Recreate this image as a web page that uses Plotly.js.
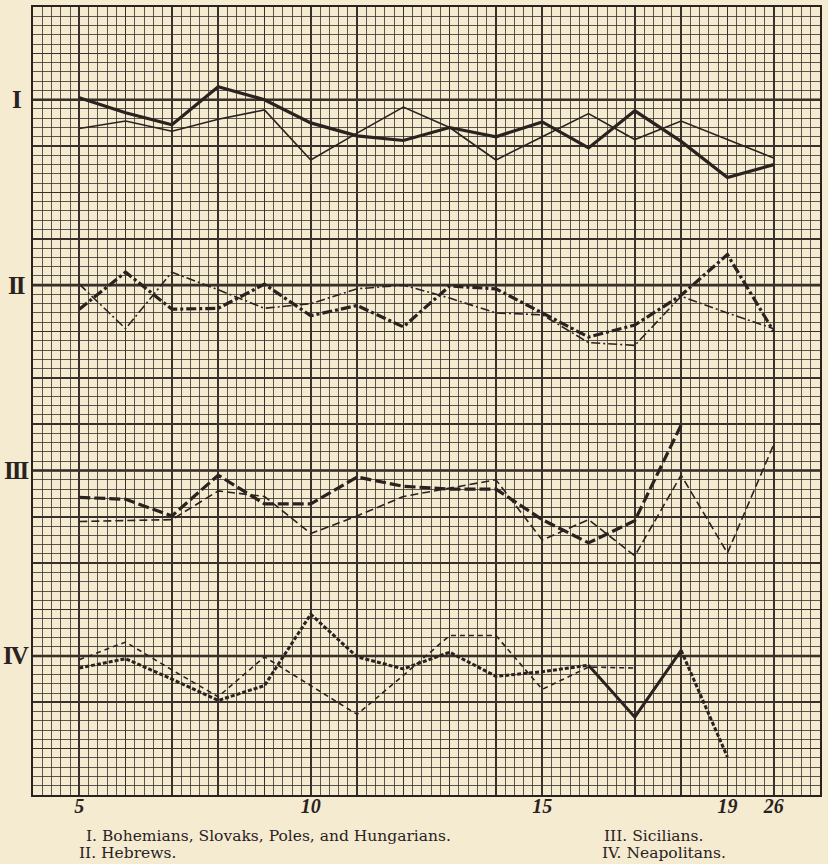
<!DOCTYPE html>
<html>
<head>
<meta charset="utf-8">
<script src="https://cdn.plot.ly/plotly-3.0.1.min.js"></script>
<style>
  html, body { margin: 0; padding: 0; background: #f4ebd0; }
  #chart { width: 828px; height: 864px; }
</style>
</head>
<body>
<div id="chart"></div>
<script>
// ---- data (y in small squares of the graph paper, from bottom) ----
const xVals = [5, 6, 7, 8, 9, 10, 11, 12, 13, 14, 15, 16, 17, 18, 19, 20];
const tickVals = [5, 10, 15, 19, 20];
const tickText = ['5', '10', '15', '19', '26'];

const groupLabels = ['I', 'II', 'III', 'IV'];
const groupLevels = [75, 55, 35, 15];

// I. Bohemians, Slovaks, Poles, and Hungarians
const iHeavy = [75.2, 73.6, 72.3, 76.4, 75.0, 72.5, 71.1, 70.6, 72.0, 71.0, 72.6, 69.8, 73.8, 70.5, 66.6, 68.0];
const iLight = [71.9, 72.7, 71.6, 72.9, 73.9, 68.5, 71.4, 74.2, 72.0, 68.5, 71.0, 73.5, 70.7, 72.7, 70.7, 68.7];

// II. Hebrews
const iiHeavy = [52.4, 56.4, 52.4, 52.5, 55.1, 51.7, 52.8, 50.5, 54.9, 54.6, 52.0, 49.4, 50.7, 53.9, 58.3, 50.0];
const iiLight = [55.1, 50.3, 56.4, 54.5, 52.5, 53.0, 54.6, 55.0, 53.6, 52.0, 51.8, 48.8, 48.5, 53.8, 52.0, 50.3];

// III. Sicilians
const iiiHeavy = [32.1, 31.9, 30.1, 34.5, 31.4, 31.4, 34.3, 33.3, 33.0, 33.0, 29.7, 27.2, 29.6, 39.9];
const iiiLight = [29.5, 29.6, 29.7, 32.8, 32.2, 28.2, 30.1, 32.2, 33.1, 34.0, 27.5, 29.7, 25.8, 34.5, 26.1, 37.8];

// IV. Neapolitans
const ivHeavy = [13.7, 14.7, 12.5, 10.2, 11.8, 19.5, 14.9, 13.6, 15.4, 12.8, 13.3, 14.0, 8.4, 15.6, 4.1];
const ivLight = [14.6, 16.5, 13.5, 10.6, 14.9, 11.8, 8.7, 12.9, 17.2, 17.2, 11.4, 13.8, 13.7];

const legendLines = [
  'I. Bohemians, Slovaks, Poles, and Hungarians.',
  'II. Hebrews.',
  'III. Sicilians.',
  'IV. Neapolitans.'
];

// ---- styling ----
const INK = '#2a221f';
const PAPER = '#f4ebd0';

function seg(ys, from, to, width, dash) {
  return {
    type: 'scatter', mode: 'lines',
    x: xVals.slice(from, to), y: ys.slice(from, to),
    line: { color: INK, width: width, dash: dash },
    hoverinfo: 'skip', showlegend: false
  };
}
function full(ys, width, dash) { return seg(ys, 0, ys.length, width, dash); }

const traces = [
  full(iLight, 1.6, 'solid'),
  full(iHeavy, 3.2, 'solid'),
  full(iiLight, 1.6, '9px,3px,2px,3px'),
  full(iiHeavy, 3.2, '10px,3px,3px,3px'),
  full(iiiLight, 1.6, '8px,4px'),
  full(iiiHeavy, 3.2, '11px,4px'),
  full(ivLight, 1.6, '5px,4px'),
  seg(ivHeavy, 0, 12, 3.0, '4px,2px'),
  seg(ivHeavy, 11, 14, 3.0, 'solid'),
  seg(ivHeavy, 13, 15, 3.0, '4px,2px'),
  { type: 'scatter', mode: 'lines', x: [], y: [], xaxis: 'x2', yaxis: 'y', showlegend: false, hoverinfo: 'skip' }
];

const shapes = groupLevels.map(v => ({
  type: 'line', xref: 'paper', x0: 0, x1: 1, yref: 'y', y0: v, y1: v,
  line: { color: INK, width: 2.6 }, layer: 'below'
}));

const annotations = [];
groupLabels.forEach((t, i) => annotations.push({
  text: '<span style="letter-spacing:-2px">' + t + '</span>',
  xref: 'paper', x: -0.021, xanchor: 'center',
  yref: 'y', y: groupLevels[i], yanchor: 'middle', showarrow: false,
  font: { family: 'Liberation Serif', size: 25, weight: 'bold', color: INK }
}));
const legPos = [
  { x: 0.065, y: -0.052 },
  { x: 0.056, y: -0.073 },
  { x: 0.723, y: -0.052 },
  { x: 0.7205, y: -0.073 }
];
legendLines.forEach((t, i) => annotations.push({
  text: t, xref: 'paper', yref: 'paper', x: legPos[i].x, y: legPos[i].y,
  xanchor: 'left', yanchor: 'middle', showarrow: false,
  font: { family: 'DejaVu Serif', size: 15.5, color: INK }
}));

const gridAxis = {
  showgrid: true, gridcolor: '#3a302b', gridwidth: 1.6,
  zeroline: false, showline: true, mirror: true, linecolor: INK, linewidth: 2.4,
  ticks: '', showticklabels: false, fixedrange: true
};

const layout = {
  width: 828, height: 864,
  margin: { l: 33, r: 8, t: 7, b: 69 },
  paper_bgcolor: PAPER, plot_bgcolor: PAPER,
  showlegend: false,
  xaxis: Object.assign({}, gridAxis, {
    range: [4, 21], tick0: 0, dtick: 1,
    minor: { tick0: 0, dtick: 0.2, showgrid: true, gridcolor: 'rgba(58,48,43,0.8)', gridwidth: 1 }
  }),
  xaxis2: {
    overlaying: 'x', anchor: 'y', side: 'bottom', range: [4, 21],
    tickmode: 'array', tickvals: tickVals, ticktext: tickText,
    showgrid: false, zeroline: false, showline: false, ticks: '',
    ticklabelstandoff: -3,
    tickfont: { family: 'Liberation Serif', size: 20, weight: 'bold', style: 'italic', color: INK },
    fixedrange: true
  },
  yaxis: Object.assign({}, gridAxis, {
    range: [0, 85], tick0: 0, dtick: 5,
    minor: { tick0: 0, dtick: 1, showgrid: true, gridcolor: 'rgba(58,48,43,0.8)', gridwidth: 1 }
  }),
  shapes: shapes,
  annotations: annotations
};

Plotly.newPlot('chart', traces, layout, { staticPlot: true, displayModeBar: false });
</script>
</body>
</html>
